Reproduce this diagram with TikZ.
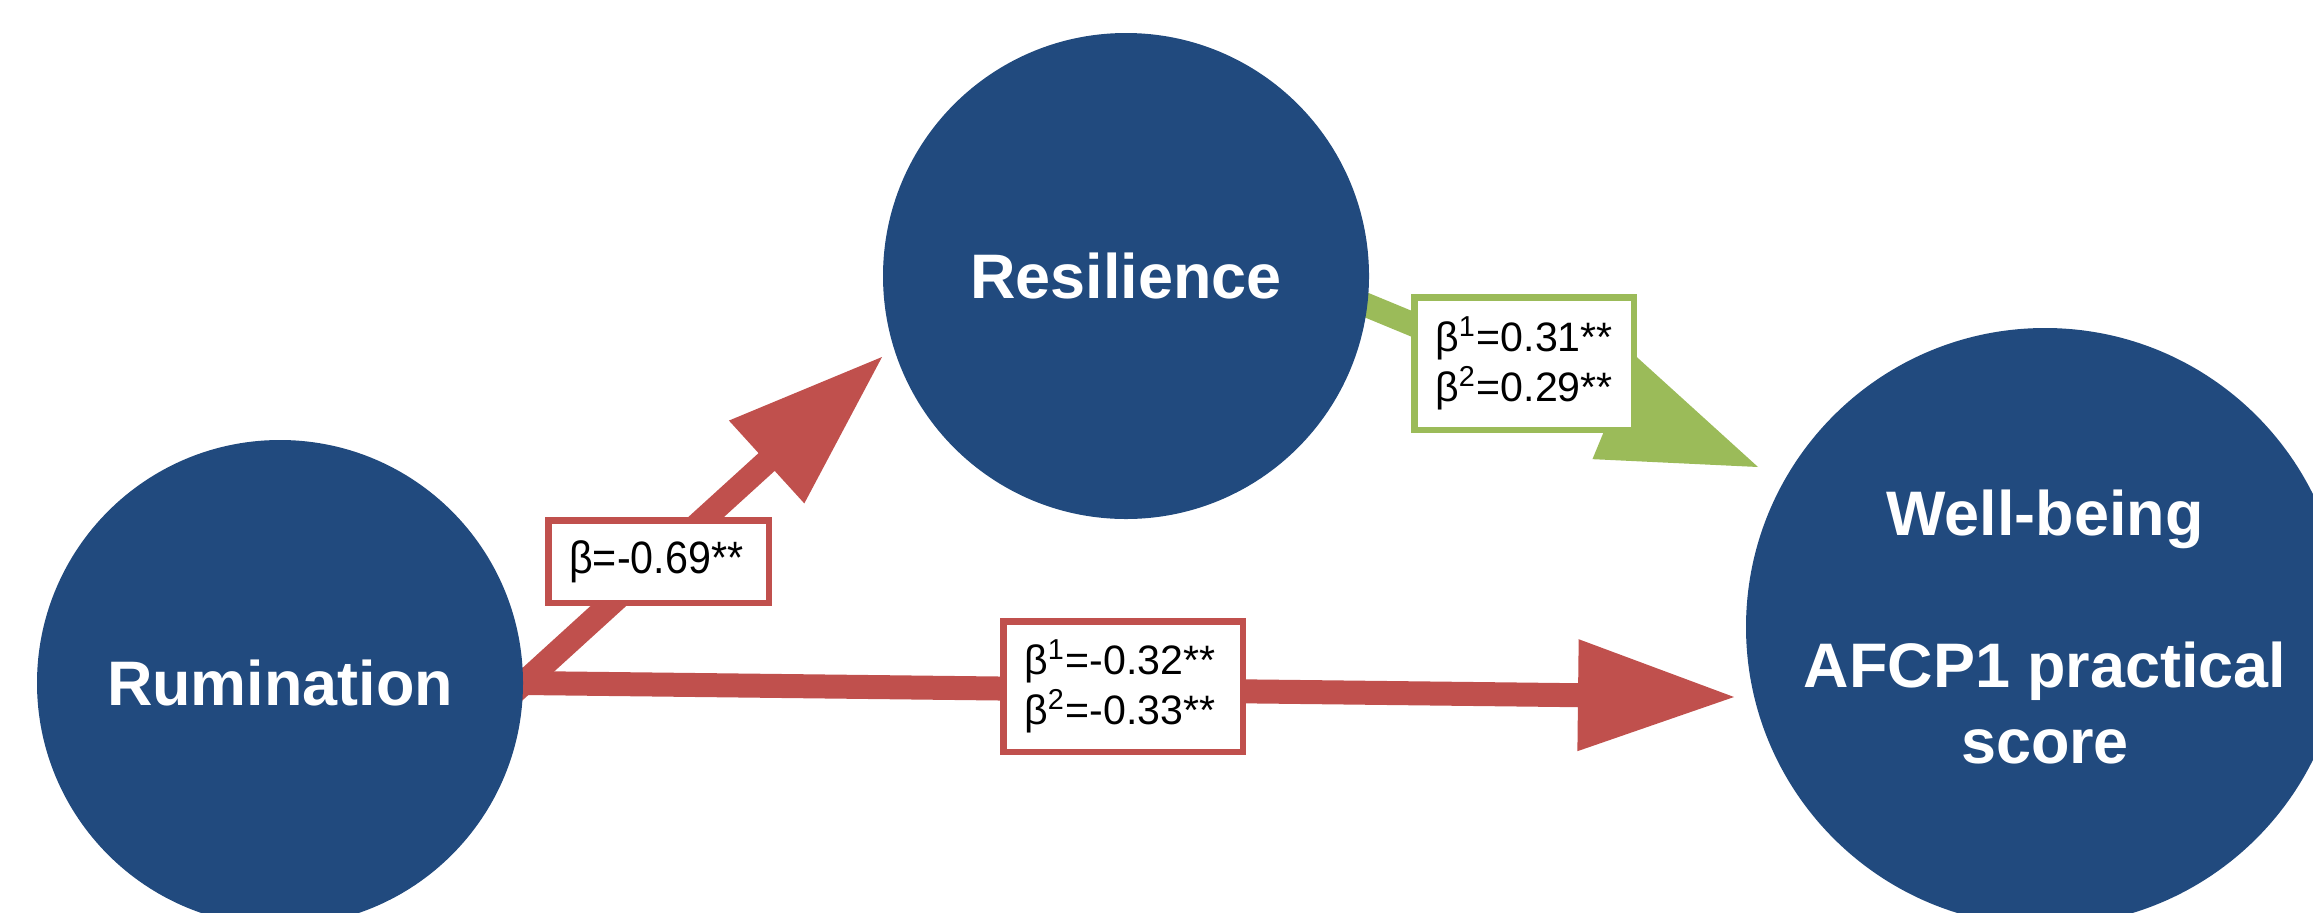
\documentclass[tikz,border=0pt]{standalone}
\usepackage{fontspec}
\setmainfont{Liberation Sans}
\newfontfamily\lblnarrow[FakeStretch=0.91]{Liberation Sans}
\usetikzlibrary{calc}
\definecolor{nodeblue}{RGB}{33,74,126}
\definecolor{arrred}{RGB}{192,80,77}
\definecolor{arrgreen}{RGB}{155,187,89}
\pgfdeclarelayer{back}
\pgfsetlayers{back,main}
\newcommand{\blockarr}[3]{%
  \coordinate (ba-s) at ($(#2)!-0.3cm!(#3)$);
  \coordinate (ba-b) at ($(#3)!1.56cm!(#2)$);
  \fill[#1] ($(ba-s)!0.12cm!90:(#3)$) -- ($(ba-b)!0.12cm!-90:(ba-s)$)
    -- ($(ba-b)!0.56cm!-90:(ba-s)$) -- (#3) -- ($(ba-b)!0.56cm!90:(ba-s)$)
    -- ($(ba-b)!0.12cm!90:(ba-s)$) -- ($(ba-s)!0.12cm!-90:(#3)$) -- cycle;}
\begin{document}
\begin{tikzpicture}[
  circ/.style={circle, fill=nodeblue, text=white, inner sep=0pt, align=center,
    font=\fontsize{17.9}{21.6}\selectfont\bfseries},
  lbl/.style={draw, line width=0.065cm, fill=white, align=left, inner xsep=0.21cm,
    inner ysep=0.02cm, font=\fontsize{11.7}{14.2}\selectfont}]
\useasboundingbox (0,0) rectangle (23.13,-9.12);
\clip (0,0) rectangle (23.13,-9.12);
\node[circ, minimum size=4.86cm] (rum) at (2.80,-6.83) {Rumination};
\node[circ, minimum size=4.86cm] (res) at (11.26,-2.76) {Resilience};
\node[circ, minimum size=5.98cm] (wb) at (20.45,-6.27) {Well-being\\[0.76cm]AFCP1 practical\\score};
\coordinate (tipA) at (8.82,-3.57);
\coordinate (tipB) at (17.34,-6.97);
\coordinate (tipC) at (17.58,-4.67);
\begin{pgfonlayer}{back}
\blockarr{arrred}{rum.east}{tipA}
\blockarr{arrred}{rum.east}{tipB}
\blockarr{arrgreen}{res.-7}{tipC}
\end{pgfonlayer}
\node[lbl, draw=arrred, text width=1.785cm, minimum height=0.825cm,
  font=\fontsize{12.9}{15.5}\selectfont\lblnarrow] (lab1) at (6.585,-5.615) {β=-0.69**};
\node[lbl, draw=arrgreen, text width=1.775cm, minimum height=1.325cm] (lab2) at (15.24,-3.635) {β\textsuperscript{1}=0.31**\\β\textsuperscript{2}=0.29**};
\node[lbl, draw=arrred, text width=1.975cm, minimum height=1.305cm] (lab3) at (11.23,-6.865) {β\textsuperscript{1}=-0.32**\\β\textsuperscript{2}=-0.33**};
\end{tikzpicture}
\end{document}
